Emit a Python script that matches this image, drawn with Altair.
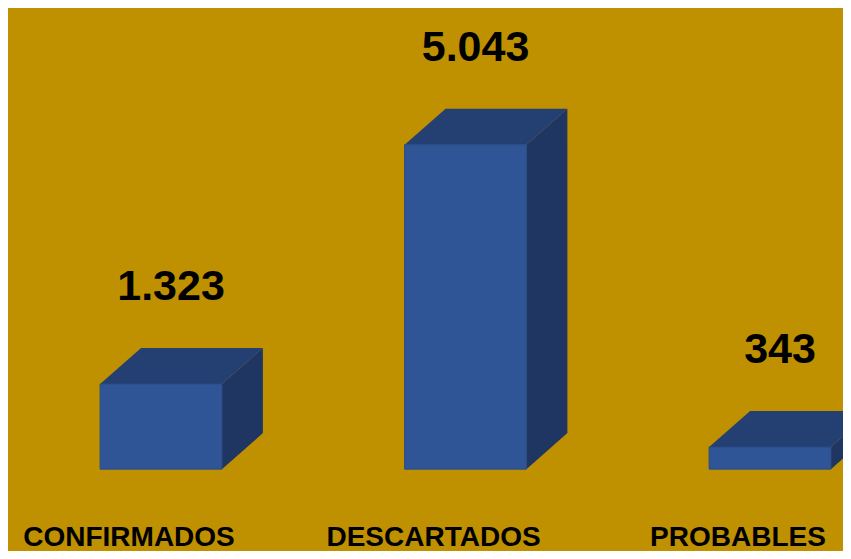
import altair as alt
import pandas as pd

categories = ["CONFIRMADOS", "DESCARTADOS", "PROBABLES"]
values = [1323, 5043, 343]

# geometry of the pseudo-3D boxes, in data units
HALF_W = 0.2
DEPTH_X = 0.1346
DEPTH_Y = 560

BG = "#BF9000"
FRONT = "#2F5597"
TOP = "#243F71"
SIDE = "#1F3662"

front_rows, top_rows, side_rows, lab_rows = [], [], [], []
for i, (c, v) in enumerate(zip(categories, values)):
    front_rows.append({"cat": c, "x0": i - HALF_W, "x1": i + HALF_W, "base": 0, "v": v})
    top_rows.append({"cat": c, "y": v, "xa": i - HALF_W, "xb": i + HALF_W})
    top_rows.append({"cat": c, "y": v + DEPTH_Y, "xa": i - HALF_W + DEPTH_X, "xb": i + HALF_W + DEPTH_X})
    side_rows.append({"cat": c, "x": i + HALF_W, "ya": 0, "yb": v})
    side_rows.append({"cat": c, "x": i + HALF_W + DEPTH_X, "ya": DEPTH_Y, "yb": v + DEPTH_Y})
    lab_rows.append({"cat": c, "i": i, "v": v, "txt": f"{v:,}".replace(",", ".")})

front = pd.DataFrame(front_rows)
top = pd.DataFrame(top_rows)
side = pd.DataFrame(side_rows)
labs = pd.DataFrame(lab_rows)

xs = alt.Scale(domain=[-0.5025, 2.2397], nice=False, zero=False)
ys = alt.Scale(domain=[-1257, 7168], nice=False, zero=False)

side_layer = alt.Chart(side).mark_area(orient="vertical", color=SIDE, clip=True).encode(
    x=alt.X("x:Q", scale=xs, axis=None),
    y=alt.Y("ya:Q", scale=ys, axis=None),
    y2="yb:Q",
    detail="cat:N",
)

top_layer = alt.Chart(top).mark_area(orient="horizontal", color=TOP, clip=True).encode(
    y=alt.Y("y:Q", scale=ys, axis=None),
    x=alt.X("xa:Q", scale=xs, axis=None),
    x2="xb:Q",
    detail="cat:N",
)

front_layer = alt.Chart(front).mark_rect(color=FRONT, stroke="#2A4C88", strokeWidth=1, clip=True).encode(
    x=alt.X("x0:Q", scale=xs, axis=None),
    x2="x1:Q",
    y=alt.Y("base:Q", scale=ys, axis=None),
    y2="v:Q",
)

value_text = alt.Chart(labs).mark_text(
    font="Liberation Sans", fontSize=43, fontWeight="bold", color="#000000",
    baseline="alphabetic", align="center", dx=10, dy=-84,
).encode(
    x=alt.X("i:Q", scale=xs, axis=None),
    y=alt.Y("v:Q", scale=ys, axis=None),
    text="txt:N",
)

cat_text = alt.Chart(labs).mark_text(
    font="Liberation Sans", fontSize=28, fontWeight="bold", color="#000000",
    baseline="alphabetic", align="center", dx=-32,
).encode(
    x=alt.X("i:Q", scale=xs, axis=None),
    y=alt.value(538),
    text="cat:N",
)

chart = alt.layer(side_layer, top_layer, front_layer, value_text, cat_text).properties(
    width=835,
    height=543,
    background=BG,
    padding=0,
    autosize=alt.AutoSizeParams(type="fit", contains="padding"),
).configure_view(stroke=None)

chart.save("out.html", embed_options={"renderer": "svg", "actions": False})
